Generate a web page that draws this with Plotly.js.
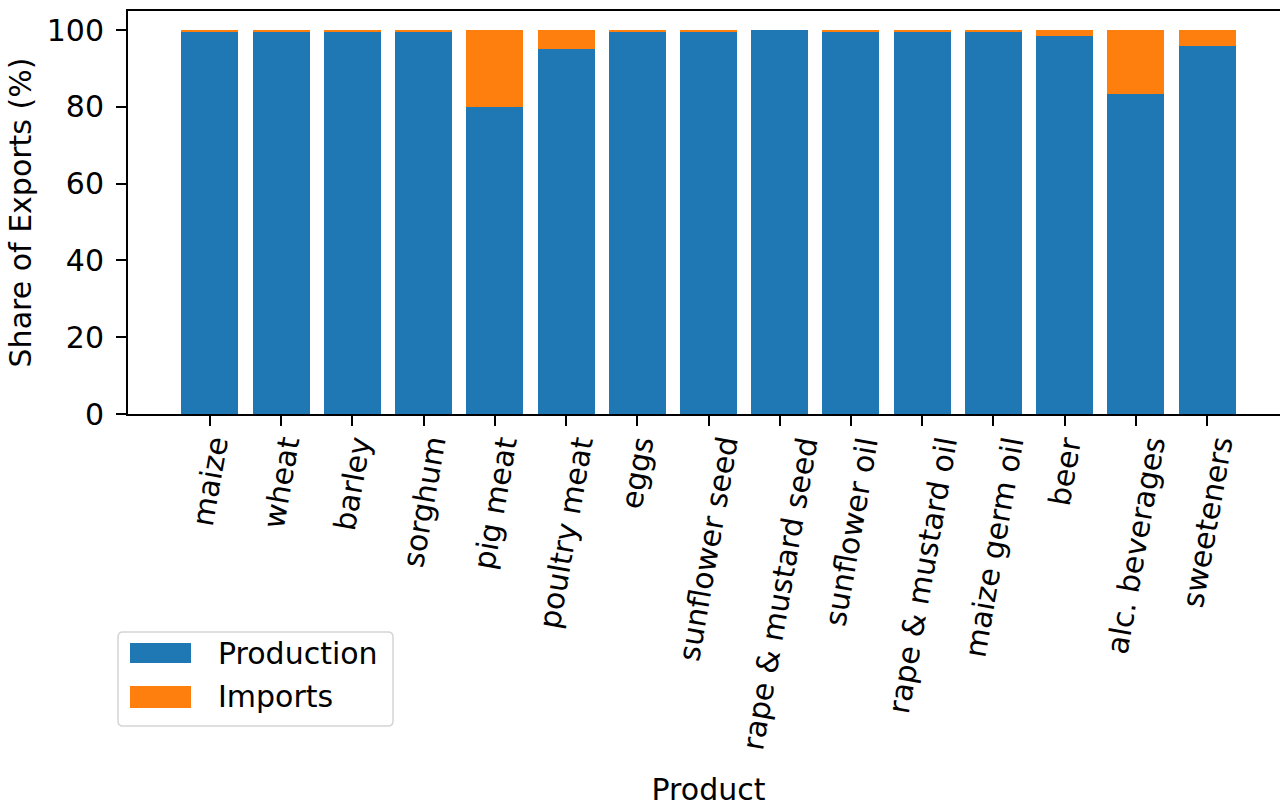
<!DOCTYPE html>
<html>
<head>
<meta charset="utf-8">
<script src="https://cdn.plot.ly/plotly-3.0.1.min.js"></script>
<style>
html, body { margin: 0; padding: 0; overflow: hidden; background: #fff; width: 1280px; height: 807px; }
#chart { width: 1290px; height: 807px; }
</style>
</head>
<body>
<div id="chart"></div>
<script>
const categories = ["maize", "wheat", "barley", "sorghum", "pig meat", "poultry meat", "eggs",
  "sunflower seed", "rape & mustard seed", "sunflower oil", "rape & mustard oil",
  "maize germ oil", "beer", "alc. beverages", "sweeteners"];
const production = [99.7, 99.7, 99.7, 99.7, 80.0, 95.0, 99.7, 99.7, 100.0, 99.7, 99.7, 99.7, 98.4, 83.4, 95.9];
const imports = [0.3, 0.3, 0.3, 0.3, 20.0, 5.0, 0.3, 0.3, 0.0, 0.3, 0.3, 0.3, 1.6, 16.6, 4.1];
const yTicks = [0, 20, 40, 60, 80, 100];
const seriesNames = ["Production", "Imports"];
const seriesColors = ["#1f77b4", "#ff7f0e"];

const FONT = "DejaVu Sans, sans-serif";
const FS = 30;
const W = 1290, H = 807;
const ML = 128, MR = 1, MT = 11, MB = 393;
const PW = W - ML - MR, PH = H - MT - MB;
const px = x => (x - ML) / PW;
const py = y => (H - MB - y) / PH;

const xIdx = categories.map((_, i) => i);

const traces = [
  { type: "bar", x: xIdx, y: production, name: seriesNames[0], marker: { color: seriesColors[0] }, width: 0.8, showlegend: false, hoverinfo: "x+y" },
  { type: "bar", x: xIdx, y: imports, name: seriesNames[1], marker: { color: seriesColors[1] }, width: 0.8, showlegend: false, hoverinfo: "x+y" }
];

// custom legend (matplotlib style)
const lx0 = 118, lx1 = 393, ly0 = 632, ly1 = 726, r = 5;
const shapes = [
  { type: "path", xref: "paper", yref: "paper",
    path: `M ${px(lx0 + r)} ${py(ly0)} L ${px(lx1 - r)} ${py(ly0)} Q ${px(lx1)} ${py(ly0)} ${px(lx1)} ${py(ly0 + r)} L ${px(lx1)} ${py(ly1 - r)} Q ${px(lx1)} ${py(ly1)} ${px(lx1 - r)} ${py(ly1)} L ${px(lx0 + r)} ${py(ly1)} Q ${px(lx0)} ${py(ly1)} ${px(lx0)} ${py(ly1 - r)} L ${px(lx0)} ${py(ly0 + r)} Q ${px(lx0)} ${py(ly0)} ${px(lx0 + r)} ${py(ly0)} Z`,
    line: { color: "#d5d5d5", width: 1.5 }, fillcolor: "rgba(255,255,255,0.8)" },
  { type: "rect", xref: "paper", yref: "paper", x0: px(130), x1: px(191), y0: py(643), y1: py(663),
    fillcolor: seriesColors[0], line: { width: 0 } },
  { type: "rect", xref: "paper", yref: "paper", x0: px(130), x1: px(191), y0: py(686), y1: py(708),
    fillcolor: seriesColors[1], line: { width: 0 } }
];
const annotations = [
  { xref: "paper", yref: "paper", x: px(216), y: py(653), text: seriesNames[0], showarrow: false,
    xanchor: "left", yanchor: "middle", font: { family: FONT, size: FS, color: "#000" } },
  { xref: "paper", yref: "paper", x: px(216), y: py(697), text: seriesNames[1], showarrow: false,
    xanchor: "left", yanchor: "middle", font: { family: FONT, size: FS, color: "#000" } }
];
// category tick labels: rotated 80°, bounding box centred under each tick (matplotlib style)
categories.forEach((c, i) => {
  annotations.push({ xref: "x", yref: "paper", x: xIdx[i], y: py(433), text: c, textangle: -80,
    showarrow: false, xanchor: "center", yanchor: "top", borderpad: 0,
    font: { family: FONT, size: FS, color: "#000" } });
});

const layout = {
  width: W, height: H,
  margin: { l: ML, r: MR, t: MT, b: MB, pad: 0 },
  barmode: "stack",
  paper_bgcolor: "#fff", plot_bgcolor: "#fff",
  font: { family: FONT, size: FS, color: "#000" },
  xaxis: {
    range: [-1.15, 15.15],
    tickmode: "array", tickvals: xIdx, ticktext: categories,
    showticklabels: false,
    ticks: "outside", ticklen: 10, tickwidth: 2, tickcolor: "#000",
    showline: true, linecolor: "#000", linewidth: 2, mirror: true,
    showgrid: false, zeroline: false,
    tickfont: { family: FONT, size: FS, color: "#000" },
    title: { text: "Product", font: { family: FONT, size: FS, color: "#000" }, standoff: 359 },
    automargin: false
  },
  yaxis: {
    range: [0, 105],
    tickmode: "array", tickvals: yTicks,
    ticks: "outside", ticklen: 10, tickwidth: 2, tickcolor: "#000",
    ticklabelstandoff: 6,
    showline: true, linecolor: "#000", linewidth: 2,
    showgrid: false, zeroline: false,
    tickfont: { family: FONT, size: FS, color: "#000" },
    title: { text: "Share of Exports (%)", font: { family: FONT, size: FS, color: "#000" }, standoff: 6 },
    automargin: false
  },
  shapes: shapes,
  annotations: annotations,
  showlegend: false
};

Plotly.newPlot("chart", traces, layout, { displayModeBar: false, responsive: false });
</script>
</body>
</html>
